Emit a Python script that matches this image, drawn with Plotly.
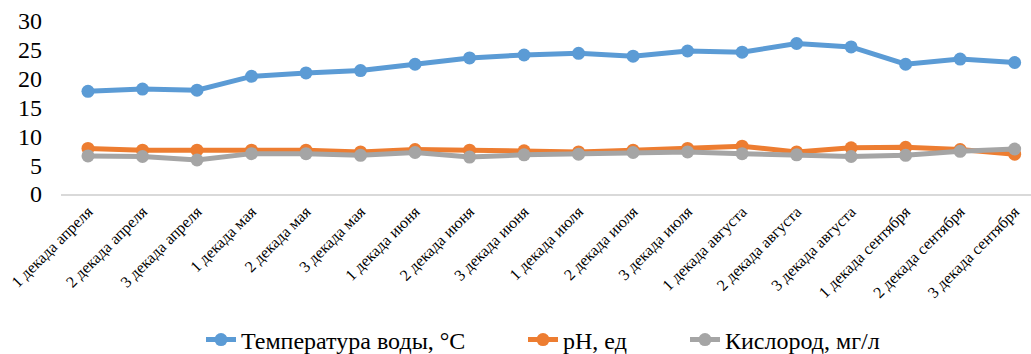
import plotly.graph_objects as go

categories = ["1 декада апреля", "2 декада апреля", "3 декада апреля",
              "1 декада мая", "2 декада мая", "3 декада мая",
              "1 декада июня", "2 декада июня", "3 декада июня",
              "1 декада июля", "2 декада июля", "3 декада июля",
              "1 декада августа", "2 декада августа", "3 декада августа",
              "1 декада сентября", "2 декада сентября", "3 декада сентября"]
temperature = [17.8, 18.2, 18.0, 20.4, 21.0, 21.4, 22.5, 23.6, 24.1, 24.4, 23.9, 24.8,
               24.6, 26.1, 25.5, 22.5, 23.4, 22.8]
ph = [7.9, 7.6, 7.6, 7.6, 7.6, 7.3, 7.7, 7.6, 7.5, 7.3, 7.6, 7.9, 8.3, 7.3, 8.0, 8.1, 7.7, 6.9]
oxygen = [6.6, 6.5, 5.9, 7.0, 7.0, 6.7, 7.2, 6.4, 6.8, 6.9, 7.2, 7.3, 7.0, 6.8, 6.5, 6.7, 7.4, 7.8]

series_names = ["Температура воды, °C", "pH, ед", "Кислород, мг/л"]
colors = ["#5B9BD5", "#ED7D31", "#A5A5A5"]
legend_ids = ["legend", "legend2", "legend3"]
legend_x = [201, 523, 685]

font_family = "Liberation Serif"

fig = go.Figure()
for name, vals, col, lg in zip(series_names, [temperature, ph, oxygen], colors, legend_ids):
    fig.add_trace(go.Scatter(x=categories, y=vals, name=name, mode="lines+markers",
                             line=dict(color=col, width=5),
                             marker=dict(color=col, size=13), cliponaxis=False,
                             legend=lg))

legend_common = dict(orientation="h", xref="container", yref="container",
                     y=14 / 354, yanchor="middle", xanchor="left",
                     font=dict(size=24, family=font_family),
                     bgcolor="rgba(0,0,0,0)")
legends = {}
for lg, lx in zip(legend_ids, legend_x):
    legends[lg] = dict(legend_common, x=lx / 1031)

fig.update_layout(
    width=1031, height=354,
    margin=dict(l=61, r=0, t=21, b=160),
    paper_bgcolor="white", plot_bgcolor="white",
    font=dict(family=font_family, color="#000000"),
    showlegend=True,
    **legends,
    xaxis=dict(type="category", range=[-0.495, 17.3], showgrid=False,
               showline=True, linecolor="#D9D9D9", linewidth=2,
               tickangle=-45, tickfont=dict(size=16, family=font_family),
               ticks="", zeroline=False, automargin=False),
    yaxis=dict(range=[0, 30], dtick=5, showgrid=False, showline=False, zeroline=False,
               tickfont=dict(size=24, family=font_family), ticklabelstandoff=18,
               automargin=False),
)

fig.write_html("out.html", config={"displayModeBar": False},
               post_script="document.body.style.margin='0';document.body.style.padding='0';")
